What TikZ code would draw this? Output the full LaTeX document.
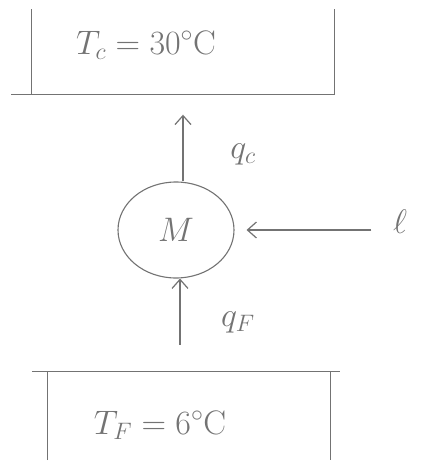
\RequirePackage{fix-cm}
\documentclass[tikz,border=0pt]{standalone}
\usepackage{amsmath}
\usepackage{tikz}
\usetikzlibrary{arrows.meta, positioning, shapes.geometric}
\definecolor{pencil}{gray}{0.45}

\begin{document}
\begin{tikzpicture}[
    x=1pt, y=-1pt,
    penline/.style={draw=pencil, line width=1.2pt},
    reservoir/.style={rectangle, inner sep=0pt},
    machine/.style={ellipse, draw=pencil, line width=1.1pt, minimum width=116pt, minimum height=96pt, text=pencil, font=\fontsize{34}{40}\selectfont},
    heat/.style={-{Straight Barb[length=9pt,width=16pt]}, line width=1.2pt, draw=pencil},
    lbl/.style={text=pencil, font=\fontsize{34}{40}\selectfont}
]
\useasboundingbox (0,0) rectangle (438,466);

% Hot reservoir
\node[reservoir, minimum width=303pt, minimum height=85pt] (hot) at (183,52) {};
\node[lbl] (hotT) at (146,45) {$T_c = 30^{\circ}\mathrm{C}$};

% Machine and work
\node[machine] (M) at (176,230) {$M$};
\node[lbl] (work) at (400,222) {$\ell$};

% Cold reservoir
\node[reservoir, minimum width=282pt, minimum height=88pt] (cold) at (189,416) {};
\node[lbl] (coldT) at (160,425) {$T_F = 6^{\circ}\mathrm{C}$};

% Reservoir walls
\draw[penline] (hot.north west) -- (hot.south west) -- (hot.south east) -- (hot.north east);
\draw[penline] ([xshift=-20pt]hot.south west) -- (hot.south west);
\draw[penline] (cold.south west) -- (cold.north west) -- (cold.north east) -- (cold.south east);
\draw[penline] ([xshift=-16pt]cold.north west) -- (cold.north west);
\draw[penline] (cold.north east) -- ([xshift=10pt]cold.north east);

% Heat and work flows
\draw[heat, shorten >=20pt] (M.north -| hot.south) -- (hot.south);
\node[lbl] (qc) at (243,154) {$q_c$};
\draw[heat, shorten <=27pt] ([xshift=-9pt]cold.north) -- ([xshift=-9pt]cold.north |- M.south);
\node[lbl] (qF) at (238,322) {$q_F$};
\draw[heat, shorten <=18pt, shorten >=12pt] (work.west |- M.east) -- (M.east);

\end{tikzpicture}
\end{document}
